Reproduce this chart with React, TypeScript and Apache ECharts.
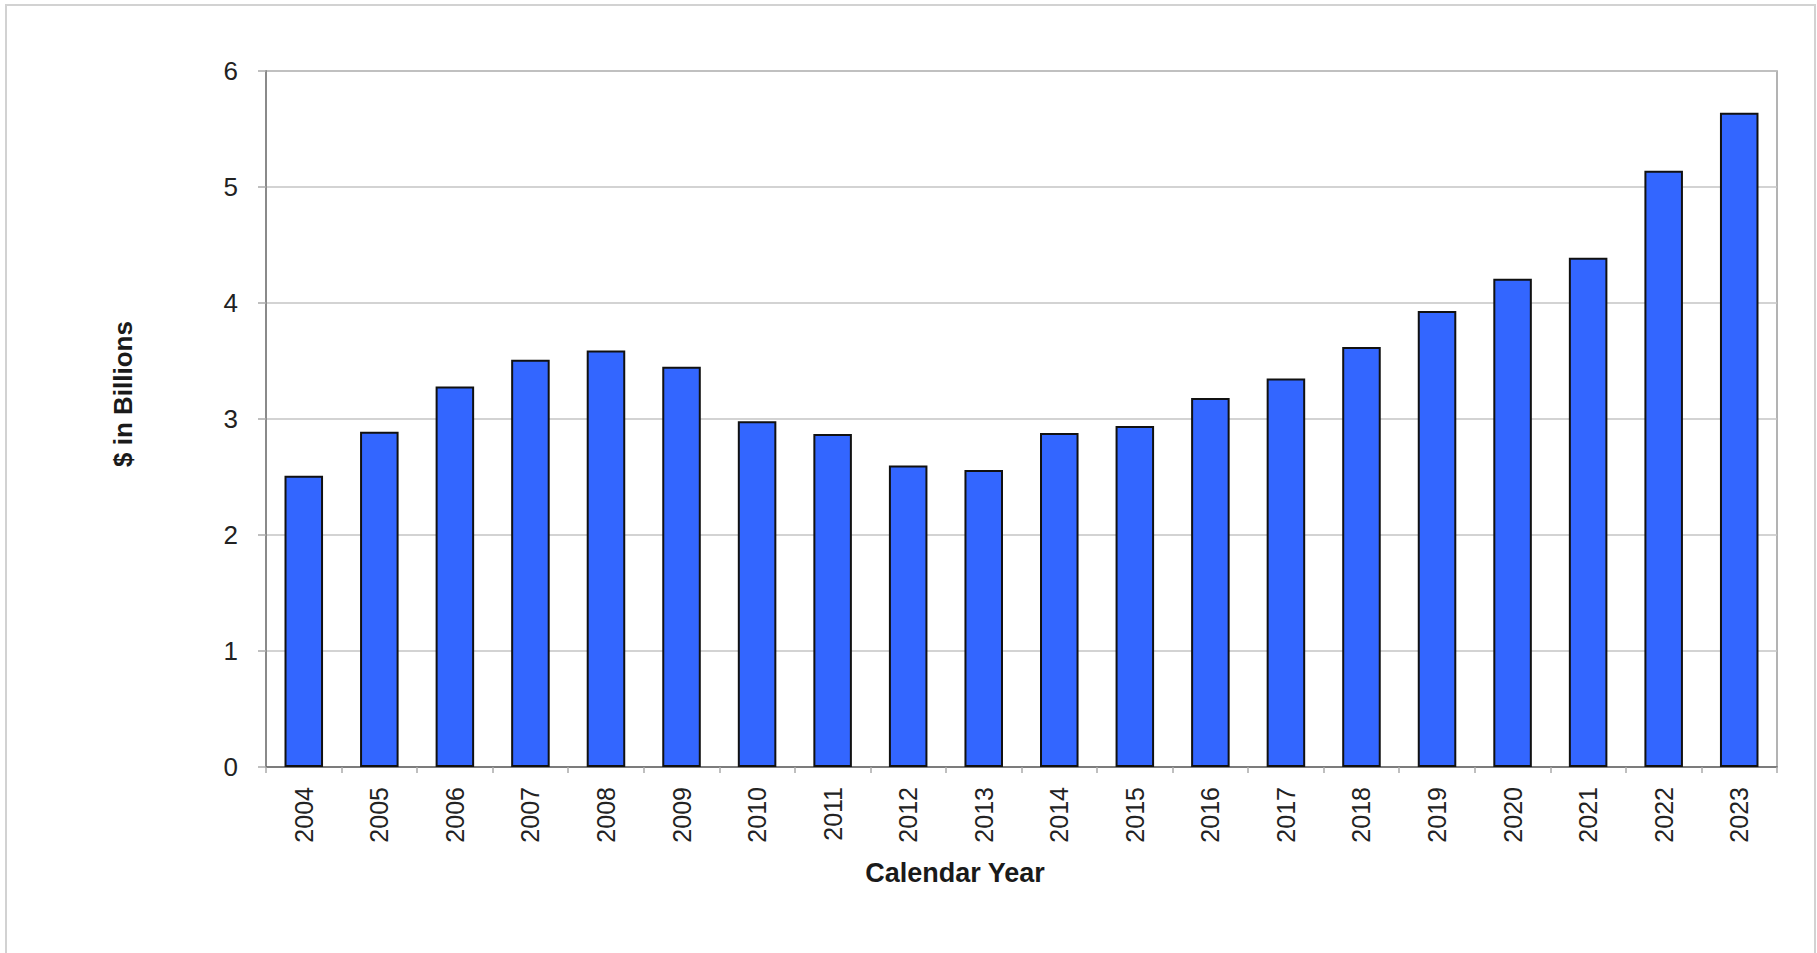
import React, { useEffect, useRef } from "react";
import * as echarts from "echarts";

const years = [
  "2004", "2005", "2006", "2007", "2008", "2009", "2010", "2011", "2012", "2013",
  "2014", "2015", "2016", "2017", "2018", "2019", "2020", "2021", "2022", "2023",
];
const billions = [
  2.51, 2.89, 3.28, 3.51, 3.59, 3.45, 2.98, 2.87, 2.6, 2.56,
  2.88, 2.94, 3.18, 3.35, 3.62, 3.93, 4.21, 4.39, 5.14, 5.64,
];
const yTicks = [0, 1, 2, 3, 4, 5, 6];
const xTitle = "Calendar Year";
const yTitle = "$ in Billions";

const FONT = "'Liberation Sans', Arial, Helvetica, sans-serif";

export default function App() {
  const ref = useRef<HTMLDivElement>(null);
  useEffect(() => {
    if (!ref.current) return;
    const chart = echarts.init(ref.current, null, { renderer: "svg" });
    chart.setOption({
      animation: false,
      backgroundColor: "#ffffff",
      textStyle: { fontFamily: FONT },
      grid: {
        left: 266,
        top: 71,
        right: 40,
        bottom: 186,
        show: true,
        borderColor: "#9a9a9a",
        borderWidth: 1.5,
        backgroundColor: "transparent",
      },
      graphic: [
        {
          type: "rect",
          shape: { x: 6, y: 5, width: 1809, height: 980 },
          style: { fill: "none", stroke: "#d2d2d2", lineWidth: 2 },
          silent: true,
          z: -10,
        },
        {
          type: "text",
          x: 955,
          y: 873,
          style: {
            text: xTitle,
            font: `bold 27px ${FONT}`,
            fill: "#1a1a1a",
            textAlign: "center",
            textVerticalAlign: "middle",
          },
        },
        {
          type: "text",
          x: 123,
          y: 394,
          rotation: Math.PI / 2,
          style: {
            text: yTitle,
            font: `bold 26px ${FONT}`,
            fill: "#1a1a1a",
            textAlign: "center",
            textVerticalAlign: "middle",
          },
        },
      ],
      xAxis: {
        type: "category",
        data: years,
        boundaryGap: true,
        axisLine: { show: true, lineStyle: { color: "#666666", width: 1.5 } },
        axisTick: {
          show: true,
          alignWithLabel: false,
          length: 6,
          lineStyle: { color: "#aaaaaa", width: 1.5 },
        },
        axisLabel: {
          rotate: 90,
          margin: 20,
          fontSize: 25,
          color: "#222222",
          fontFamily: FONT,
          interval: 0,
        },
      },
      yAxis: {
        type: "value",
        min: yTicks[0],
        max: yTicks[yTicks.length - 1],
        interval: 1,
        axisLine: { show: true, lineStyle: { color: "#8a8a8a", width: 2 } },
        axisTick: { show: true, length: 8, lineStyle: { color: "#aaaaaa", width: 1.5 } },
        axisLabel: {
          margin: 28,
          fontSize: 26,
          color: "#222222",
          fontFamily: FONT,
        },
        splitLine: { show: true, lineStyle: { color: "#c4c4c4", width: 1.5 } },
      },
      series: [
        {
          type: "bar",
          data: billions,
          barWidth: "51%",
          itemStyle: {
            color: "#3366ff",
            borderColor: "#111111",
            borderWidth: 2,
          },
        },
      ],
    });
    return () => chart.dispose();
  }, []);
  return (
    <div
      ref={ref}
      style={{ position: "absolute", left: 0, top: 0, width: 1817, height: 953 }}
    />
  );
}
